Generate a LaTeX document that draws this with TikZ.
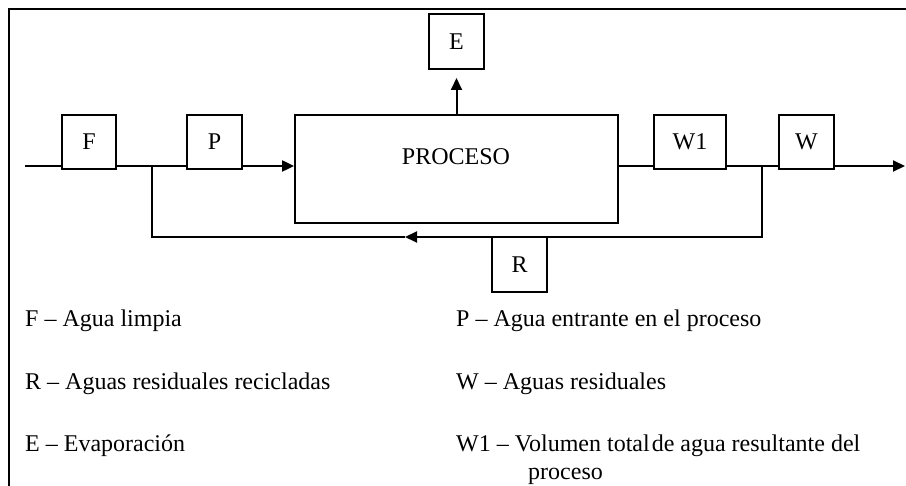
\documentclass[tikz,border=0pt]{standalone}
\usepackage{fontspec}
\setmainfont{Liberation Serif}
\usetikzlibrary{arrows.meta}
\begin{document}
\begin{tikzpicture}[x=1pt,y=-1pt,
  txt/.style={font=\fontsize{24}{28}\selectfont},
  box/.style={draw,line width=1.8pt,fill=white,inner sep=0pt,txt},
  flow/.style={line width=2pt},
  arr/.style={flow,-{Triangle[length=12pt,width=11pt]}},
  legend/.style={anchor=base west,inner sep=0pt,txt}]
\useasboundingbox (0,0) rectangle (906,486);
\draw[line width=2.2pt] (9,486) -- (9,9) -- (906,9);
% boxes
\node[box,minimum width=54pt,minimum height=54pt] (F) at (89,142) {F};
\node[box,minimum width=55pt,minimum height=54pt] (P) at (214.5,142) {P};
\node[box,minimum width=323pt,minimum height=108pt] (proc) at (456.5,169) {};
\node[txt,inner sep=0pt] (proctext) at (456,157) {PROCESO};
\node[box,minimum width=72pt,minimum height=54pt] (W1) at (690,142) {W1};
\node[box,minimum width=55pt,minimum height=54pt] (W) at (806.5,142) {W};
\node[box,minimum width=55pt,minimum height=55pt] (E) at (456.5,41.5) {E};
\node[box,minimum width=55pt,minimum height=55pt] (R) at (519.5,264.5) {R};
% coordinates
\coordinate (in) at (25,166);
\coordinate (out) at (905,166);
\coordinate (j1) at (152,166);
\coordinate (j2) at (762,166);
\coordinate (etip) at (456.5,78);
\coordinate (rmid) at (405,237);
% main flow
\draw[flow] (in) -- (in -| F.west);
\draw[flow] (F.east |- in) -- (j1) -- (P.west |- in);
\draw[arr] (P.east |- in) -- (proc.west |- in);
\draw[flow] (proc.east |- in) -- (W1.west |- in);
\draw[flow] (W1.east |- in) -- (j2) -- (W.west |- in);
\draw[arr] (W.east |- in) -- (out);
\draw[arr] (proc.north) -- (etip);
% recycle
\draw[arr] (j2) |- (rmid);
\draw[flow] (rmid) -| (j1);
% legend
\node[legend] (l1) at (25,327) {F – Agua limpia};
\node[legend] (l2) at (25,390) {R – Aguas residuales recicladas};
\node[legend] (l3) at (25,452) {E – Evaporación};
\node[legend] (l4) at (456,327) {P – Agua entrante en el proceso};
\node[legend] (l5) at (456,390) {W – Aguas residuales};
\node[legend] (l6) at (456,452) {W1 – Volumen total\hspace{2pt}de agua resultante del};
\node[legend] (l7) at (528,480) {proceso};
\end{tikzpicture}
\end{document}
